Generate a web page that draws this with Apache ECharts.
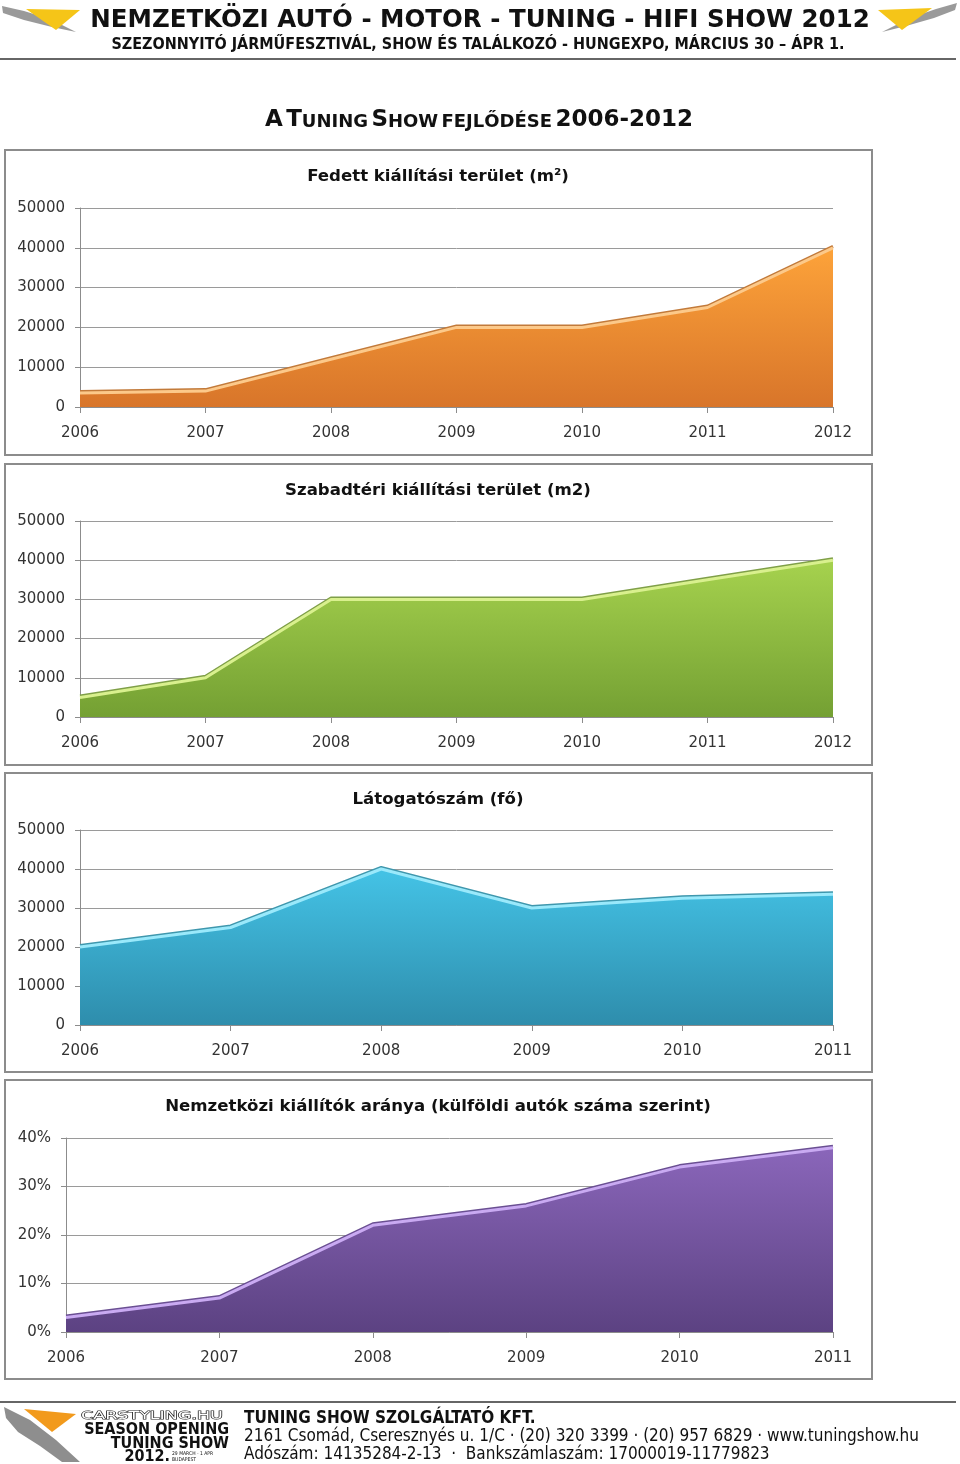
<!DOCTYPE html>
<html>
<head>
<meta charset="utf-8">
<script src="https://cdn.jsdelivr.net/npm/echarts@6/dist/echarts.min.js"></script>
<style>
html,body{margin:0;padding:0;background:#fff;}
#chart{width:960px;height:1464px;}
</style>
</head>
<body>
<div id="chart"></div>
<script>
// ---- data ----
const years7 = ['2006', '2007', '2008', '2009', '2010', '2011', '2012'];
const years6 = ['2006', '2007', '2008', '2009', '2010', '2011'];
const fedettTerulet = [3500, 4000, 12000, 20000, 20000, 25000, 40000];
const szabadteriTerulet = [5000, 10000, 30000, 30000, 30000, 35000, 40000];
const latogatoszam = [20000, 25000, 40000, 30000, 32500, 33500];
const nemzetkoziArany = [3, 7, 22, 26, 34, 38];
const chartTitles = [
  'Fedett kiállítási terület (m²)',
  'Szabadtéri kiállítási terület (m2)',
  'Látogatószám (fő)',
  'Nemzetközi kiállítók aránya (külföldi autók száma szerint)'
];

const FONT = "'DejaVu Sans', Verdana, sans-serif";
const NARROW = "'Liberation Sans Narrow', 'DejaVu Sans Condensed', 'Liberation Sans', sans-serif";

const grids = [
  {left: 80, top: 208, width: 753, height: 199},
  {left: 80, top: 521, width: 753, height: 196},
  {left: 80, top: 830, width: 753, height: 195},
  {left: 66, top: 1138, width: 767, height: 194}
];
const boxes = [
  {y: 150, h: 305}, {y: 464, h: 301}, {y: 773, h: 299}, {y: 1080, h: 299}
];
const titleY = [177, 491, 800, 1107];

const palettes = [
  {top: '#fda33a', bottom: '#d8752a', line: '#fcc98a', edge: '#c27a3a'},
  {top: '#a6d24e', bottom: '#74a033', line: '#d9f08e', edge: '#7f9f48'},
  {top: '#44c3e6', bottom: '#2e8dac', line: '#9ae9fb', edge: '#3f97ad'},
  {top: '#8a66ba', bottom: '#5c4282', line: '#c9aaf2', edge: '#6a4f92'}
];

const catData = [years7, years7, years6, years6];
const valData = [fedettTerulet, szabadteriTerulet, latogatoszam, nemzetkoziArany];
const yMax = [50000, 50000, 50000, 40];
const yInt = [10000, 10000, 10000, 10];

const xAxis = [], yAxis = [], series = [];
for (let i = 0; i < 4; i++) {
  xAxis.push({
    gridIndex: i, type: 'category', data: catData[i], boundaryGap: false,
    axisLine: {lineStyle: {color: '#8c8c8c', width: 1}},
    axisTick: {show: true, length: 6, lineStyle: {color: '#8c8c8c'}},
    axisLabel: {color: '#333', fontSize: 15, fontFamily: FONT, margin: 19},
    splitLine: {show: false}
  });
  yAxis.push({
    gridIndex: i, type: 'value', min: 0, max: yMax[i], interval: yInt[i],
    axisLine: {show: true, lineStyle: {color: '#8c8c8c', width: 1}},
    axisTick: {show: true, length: 5, lineStyle: {color: '#8c8c8c'}},
    axisLabel: {color: '#333', fontSize: 15, fontFamily: FONT, margin: 15,
      formatter: i === 3 ? (v => v + '%') : (v => String(v))},
    splitLine: {show: true, lineStyle: {color: '#9a9a9a', width: 1}}
  });
  const p = palettes[i];
  series.push({
    type: 'line', xAxisIndex: i, yAxisIndex: i, data: valData[i],
    symbol: 'none', silent: true,
    lineStyle: {color: p.line, width: 3, shadowColor: p.edge, shadowBlur: 0, shadowOffsetY: -1.5},
    areaStyle: {opacity: 1, color: new echarts.graphic.LinearGradient(0, 0, 0, 1, [
      {offset: 0, color: p.top}, {offset: 1, color: p.bottom}
    ])}
  });
}

const graphic = [];
// header
graphic.push({type: 'text', x: 480, y: 21, style: {text: 'NEMZETKÖZI AUTÓ - MOTOR - TUNING - HIFI SHOW 2012',
  font: 'bold 24.5px ' + FONT, fill: '#111', align: 'center', verticalAlign: 'middle'}});
graphic.push({type: 'text', x: 478, y: 45, style: {text: 'SZEZONNYITÓ JÁRMŰFESZTIVÁL, SHOW ÉS TALÁLKOZÓ - HUNGEXPO, MÁRCIUS 30 – ÁPR 1.',
  font: 'bold 16px ' + NARROW, fill: '#111', align: 'center', verticalAlign: 'middle'}});
graphic.push({type: 'line', shape: {x1: 0, y1: 59, x2: 956, y2: 59}, style: {stroke: '#333', lineWidth: 1.5}});
// header wings
graphic.push({type: 'polygon', shape: {points: [[2, 6], [24, 11], [50, 19], [76, 32], [52, 27], [24, 20], [3, 13]]}, style: {fill: '#9a9a9a'}});
graphic.push({type: 'polygon', shape: {points: [[26, 9], [80, 10], [56, 30]]}, style: {fill: '#f5c518'}});
graphic.push({type: 'polygon', shape: {points: [[957, 3], [936, 9], [910, 18], [882, 32], [906, 26], [934, 18], [955, 10]]}, style: {fill: '#9a9a9a'}});
graphic.push({type: 'polygon', shape: {points: [[932, 8], [878, 10], [902, 30]]}, style: {fill: '#f5c518'}});

// main title (small caps)
graphic.push({type: 'text', x: 479, y: 120, style: {
  text: '{b|A} {b|T}{s|UNING} {b|S}{s|HOW} {s|FEJLŐDÉSE} {b|2006-2012}',
  align: 'center', verticalAlign: 'middle',
  rich: {
    b: {font: 'bold 23px ' + FONT, fill: '#111', verticalAlign: 'bottom'},
    s: {font: 'bold 18px ' + FONT, fill: '#111', verticalAlign: 'bottom'}
  }
}});

// chart boxes and titles
for (let i = 0; i < 4; i++) {
  graphic.push({type: 'rect', z: -10, shape: {x: 5, y: boxes[i].y, width: 867, height: boxes[i].h},
    style: {fill: 'rgba(0,0,0,0)', stroke: '#8c8c8c', lineWidth: 2}});
  graphic.push({type: 'text', x: 438, y: titleY[i], style: {text: chartTitles[i],
    font: 'bold 16.6px ' + FONT, fill: '#111', align: 'center', verticalAlign: 'middle'}});
}

// footer
graphic.push({type: 'line', shape: {x1: 0, y1: 1402, x2: 956, y2: 1402}, style: {stroke: '#333', lineWidth: 1.5}});
graphic.push({type: 'polygon', shape: {points: [[4, 1407], [30, 1420], [56, 1440], [80, 1462], [62, 1462], [40, 1446], [18, 1432], [6, 1418]]}, style: {fill: '#8e8e8e'}});
graphic.push({type: 'polygon', shape: {points: [[24, 1409], [76, 1414], [52, 1432]]}, style: {fill: '#f29a1c'}});
graphic.push({type: 'text', x: 81, y: 1416, scaleX: 1.75,
  style: {text: 'CARSTYLING.HU', font: '10px ' + FONT, fill: '#fff', stroke: '#222', lineWidth: 1, align: 'left', verticalAlign: 'middle'}});
graphic.push({type: 'text', x: 229, y: 1430, style: {text: 'SEASON OPENING', font: 'bold 16px ' + NARROW, fill: '#111', align: 'right', verticalAlign: 'middle'}});
graphic.push({type: 'text', x: 229, y: 1444, style: {text: 'TUNING SHOW', font: 'bold 16px ' + NARROW, fill: '#111', align: 'right', verticalAlign: 'middle'}});
graphic.push({type: 'text', x: 170, y: 1457, style: {text: '2012.', font: 'bold 16px ' + NARROW, fill: '#111', align: 'right', verticalAlign: 'middle'}});
graphic.push({type: 'text', x: 172, y: 1454, style: {text: '29 MARCH - 1 APR', font: '5px ' + NARROW, fill: '#111', align: 'left', verticalAlign: 'middle'}});
graphic.push({type: 'text', x: 172, y: 1460, style: {text: 'BUDAPEST', font: '5px ' + NARROW, fill: '#111', align: 'left', verticalAlign: 'middle'}});
graphic.push({type: 'text', x: 244, y: 1419, style: {text: 'TUNING SHOW SZOLGÁLTATÓ KFT.', font: 'bold 17px ' + NARROW, fill: '#111', align: 'left', verticalAlign: 'middle'}});
graphic.push({type: 'text', x: 244, y: 1437, style: {text: '2161 Csomád, Cseresznyés u. 1/C · (20) 320 3399 · (20) 957 6829 · www.tuningshow.hu', font: '17px ' + NARROW, fill: '#111', align: 'left', verticalAlign: 'middle'}});
graphic.push({type: 'text', x: 244, y: 1455, style: {text: 'Adószám: 14135284-2-13  ·  Bankszámlaszám: 17000019-11779823', font: '17px ' + NARROW, fill: '#111', align: 'left', verticalAlign: 'middle'}});

const chart = echarts.init(document.getElementById('chart'), null, {renderer: 'canvas'});
chart.setOption({
  animation: false,
  backgroundColor: '#fff',
  grid: grids,
  xAxis: xAxis,
  yAxis: yAxis,
  series: series,
  graphic: graphic
});
</script>
</body>
</html>
